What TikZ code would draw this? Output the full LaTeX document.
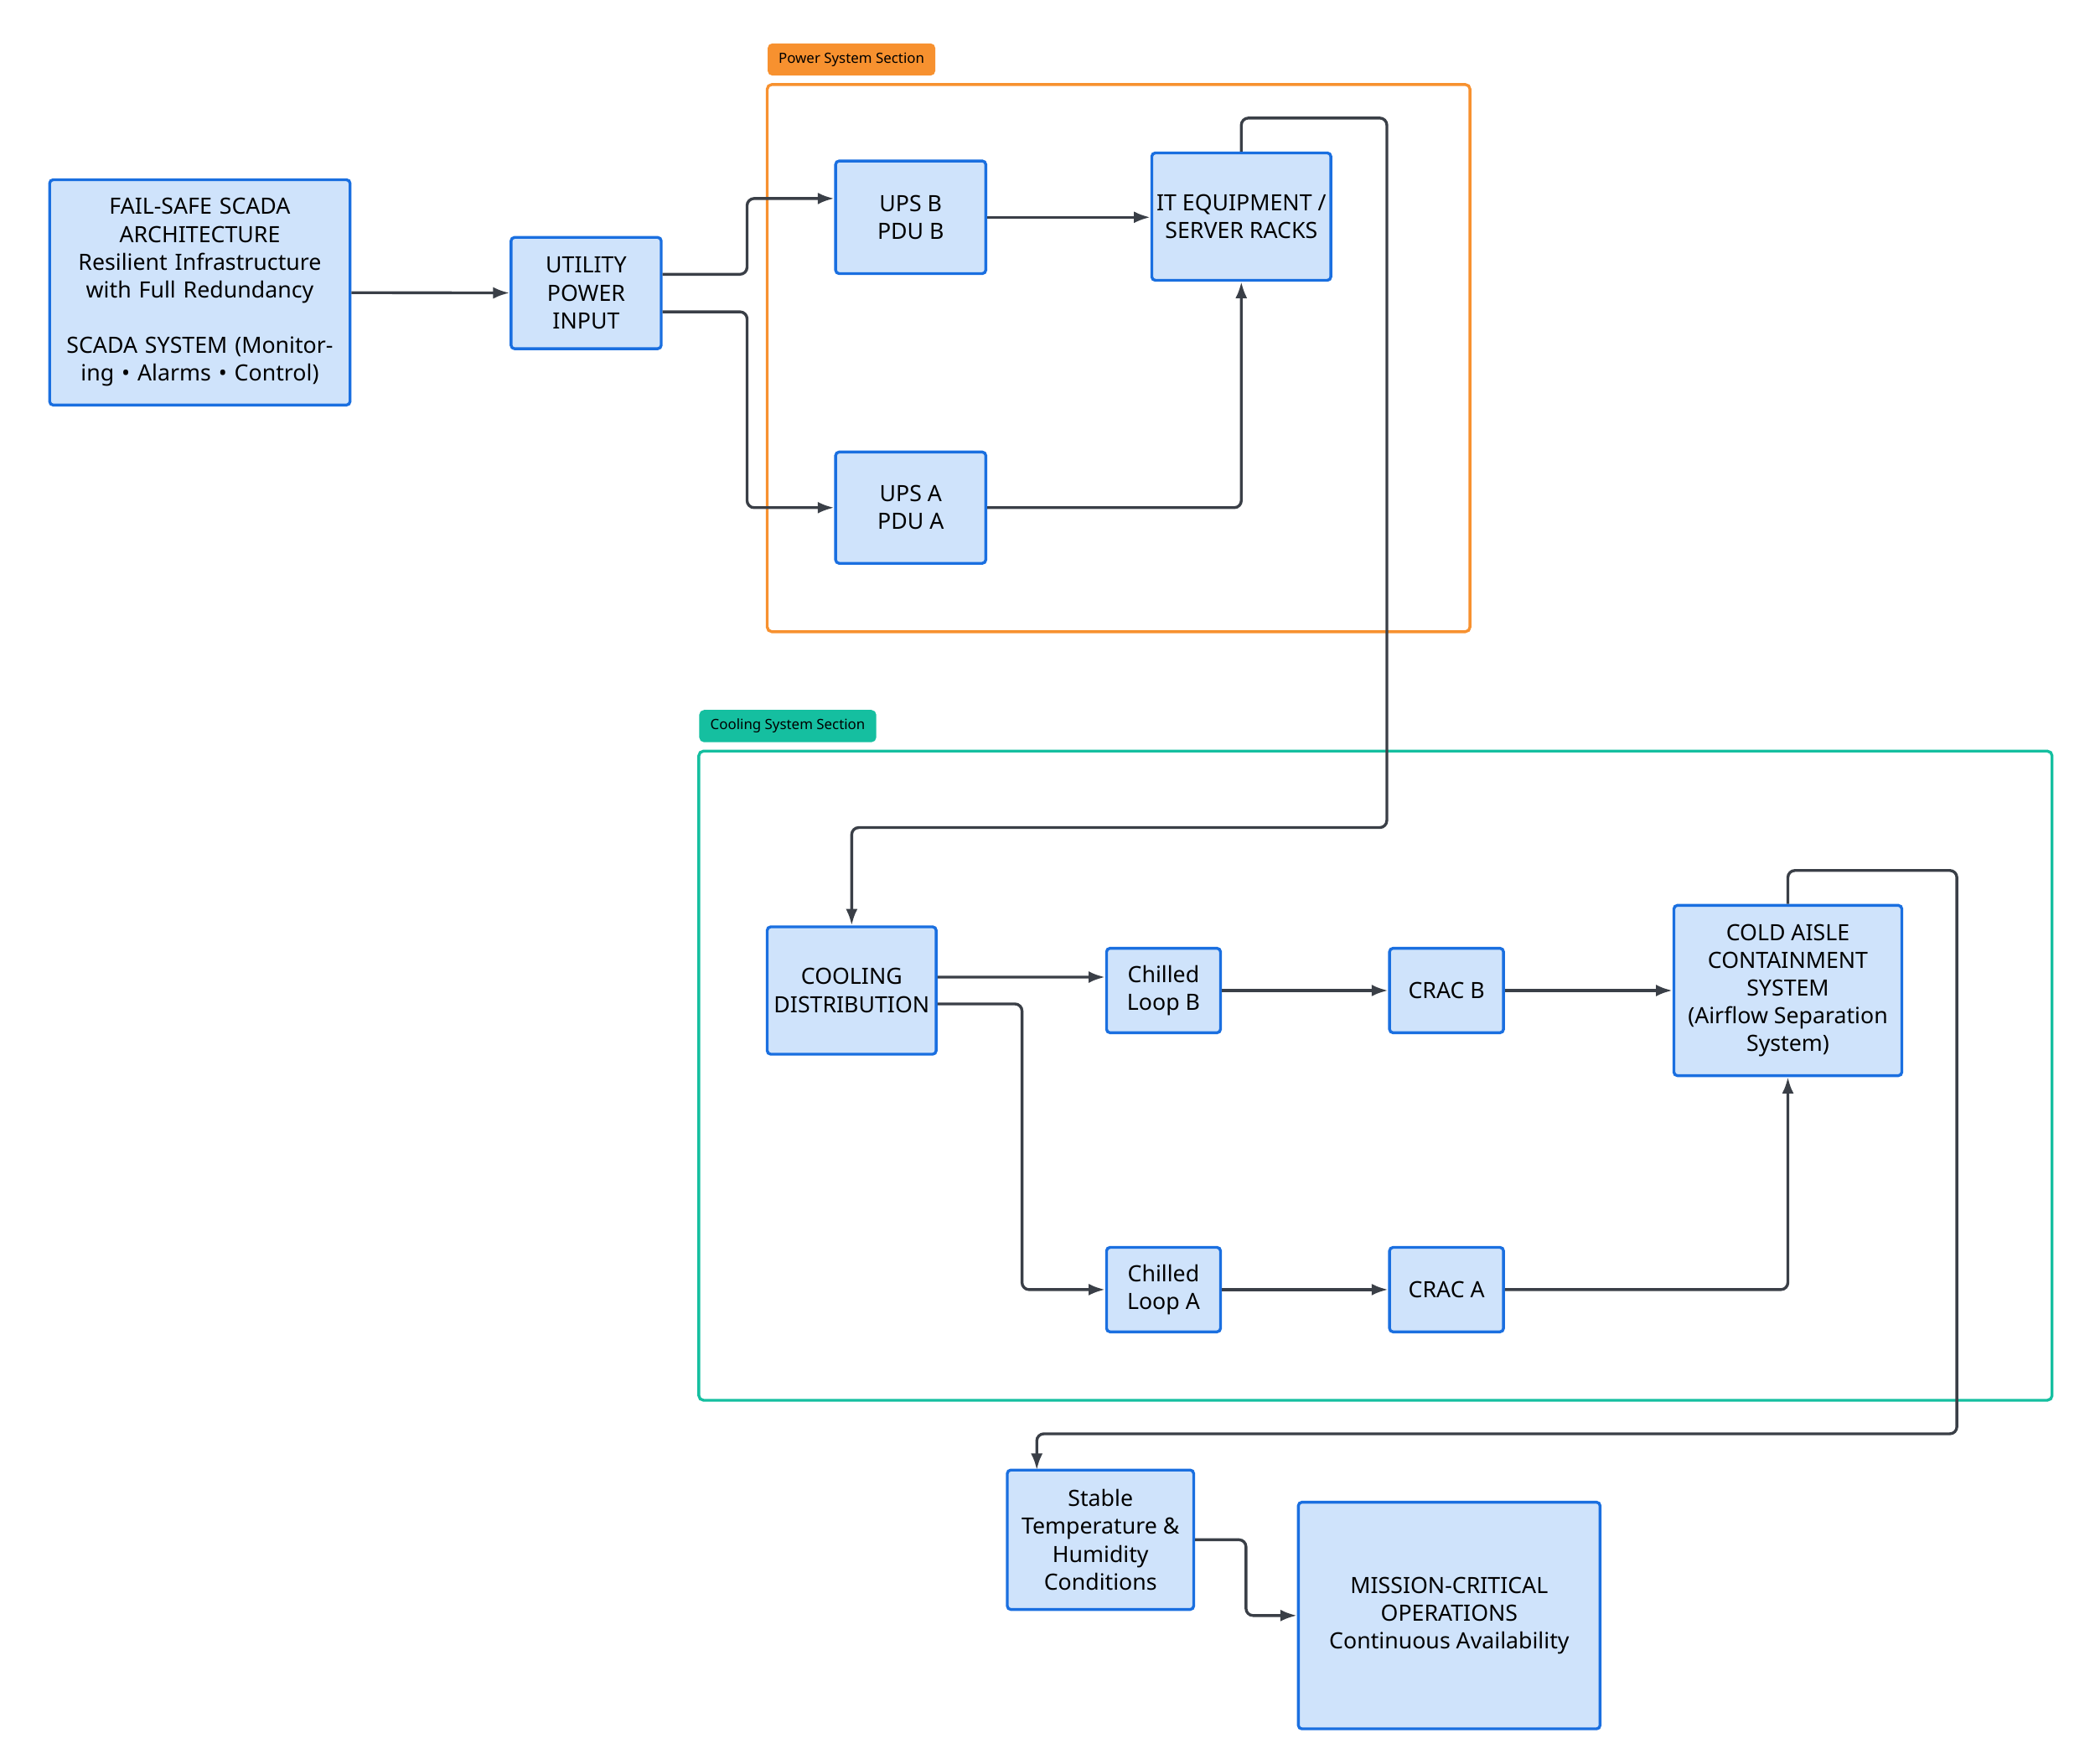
\documentclass[tikz,border=0pt]{standalone}
\usepackage{fontspec}
\setmainfont{Noto Sans}
\usetikzlibrary{positioning,arrows.meta}
\definecolor{boxfill}{HTML}{CFE3FB}
\definecolor{boxline}{HTML}{1A6FE0}
\definecolor{wire}{HTML}{3A3F47}
\definecolor{powerc}{HTML}{F7912F}
\definecolor{coolc}{HTML}{15BFA0}
\tikzset{
  unit/.style={draw=boxline,fill=boxfill,line width=1.2pt,rounded corners=1.5pt,align=center,
    font=\fontsize{9.5}{11.8}\selectfont,inner sep=2pt},
  flow/.style={draw=wire,line width=1.2pt,rounded corners=3pt,-{Latex[length=7pt,width=5pt]}},
  zone/.style={line width=1.2pt,rounded corners=2pt},
  tag/.style={rounded corners=2pt,font=\fontsize{6}{7}\selectfont,inner sep=3pt,minimum height=0.48cm}
}
\begin{document}
\begin{tikzpicture}[x=0.02cm,y=-0.02cm]
\useasboundingbox (0,0) rectangle (1562,1315);
% sections
\draw[zone,powerc] (572,63) rectangle (1096,471);
\node[tag,fill=powerc,anchor=north west,minimum width=2.5cm] (powertag) at (572,32) {Power System Section};
\draw[zone,coolc] (521,560) rectangle (1530,1044);
\node[tag,fill=coolc,anchor=north west,minimum width=2.64cm] (cooltag) at (521,529) {Cooling System Section};
% nodes
\node[unit,minimum width=4.48cm,minimum height=3.36cm,text width=4.2cm] (scada) at (149,218)
  {FAIL-SAFE SCADA ARCHITECTURE\\Resilient Infrastructure with Full Redundancy\\[11.8pt]SCADA SYSTEM (Monitoring • Alarms • Control)};
\node[unit,minimum width=2.24cm,minimum height=1.66cm] (utility) at (437,218.5) {UTILITY\\POWER\\INPUT};
\node[unit,minimum width=2.24cm,minimum height=1.68cm] (upsb) at (679,162) {UPS B\\PDU B};
\node[unit,minimum width=2.24cm,minimum height=1.66cm] (upsa) at (679,378.5) {UPS A\\PDU A};
\node[unit,minimum width=2.54cm,minimum height=1.9cm] (itrack) at (925.5,161.5) {IT EQUIPMENT /\\SERVER RACKS};
\node[unit,minimum width=2.52cm,minimum height=1.9cm] (cooldist) at (635,738.5) {COOLING\\DISTRIBUTION};
\node[unit,minimum width=1.7cm,minimum height=1.26cm] (loopb) at (867.5,738.5) {Chilled\\Loop B};
\node[unit,minimum width=1.7cm,minimum height=1.26cm] (cracb) at (1078.5,738.5) {CRAC B};
\node[unit,minimum width=3.4cm,minimum height=2.54cm] (aisle) at (1333,738.5) {COLD AISLE\\CONTAINMENT\\SYSTEM\\(Airflow Separation\\System)};
\node[unit,minimum width=1.7cm,minimum height=1.26cm] (loopa) at (867.5,961.5) {Chilled\\Loop A};
\node[unit,minimum width=1.7cm,minimum height=1.26cm] (craca) at (1078.5,961.5) {CRAC A};
\node[unit,minimum width=2.78cm,minimum height=2.08cm] (stable) at (820.5,1148) {Stable\\Temperature \&\\Humidity\\Conditions};
\node[unit,minimum width=4.5cm,minimum height=3.38cm] (mission) at (1080.5,1204.5) {MISSION-CRITICAL\\OPERATIONS\\Continuous Availability};
% connectors
\draw[flow] (scada) -- (utility);
\draw[flow] ([yshift=0.28cm]utility.east) -| (557,148) -- ([yshift=0.28cm]upsb.west);
\draw[flow] ([yshift=-0.28cm]utility.east) -| (557,378.5) -- (upsa.west);
\draw[flow] (upsb.east) -- (itrack.west |- upsb.east);
\draw[flow] (upsa.east) -| (itrack.south);
\draw[flow] (itrack.north) |- (1034,88) |- (635,617) -- (cooldist.north);
\draw[flow] ([yshift=0.2cm]cooldist.east) -- (loopb.west |- 0,728.5);
\draw[flow] ([yshift=-0.2cm]cooldist.east) -| (762,961.5) -- (loopa.west);
\draw[flow] (loopb) -- (cracb);
\draw[flow] (cracb) -- (aisle);
\draw[flow] (loopa) -- (craca);
\draw[flow] (craca.east) -| (aisle.south);
\draw[flow] (aisle.north) |- (1459,649) |- (773,1069) -- (773,1096);
\draw[flow] (stable.east) -| (929,1204.5) -- (mission.west);
\end{tikzpicture}
\end{document}
